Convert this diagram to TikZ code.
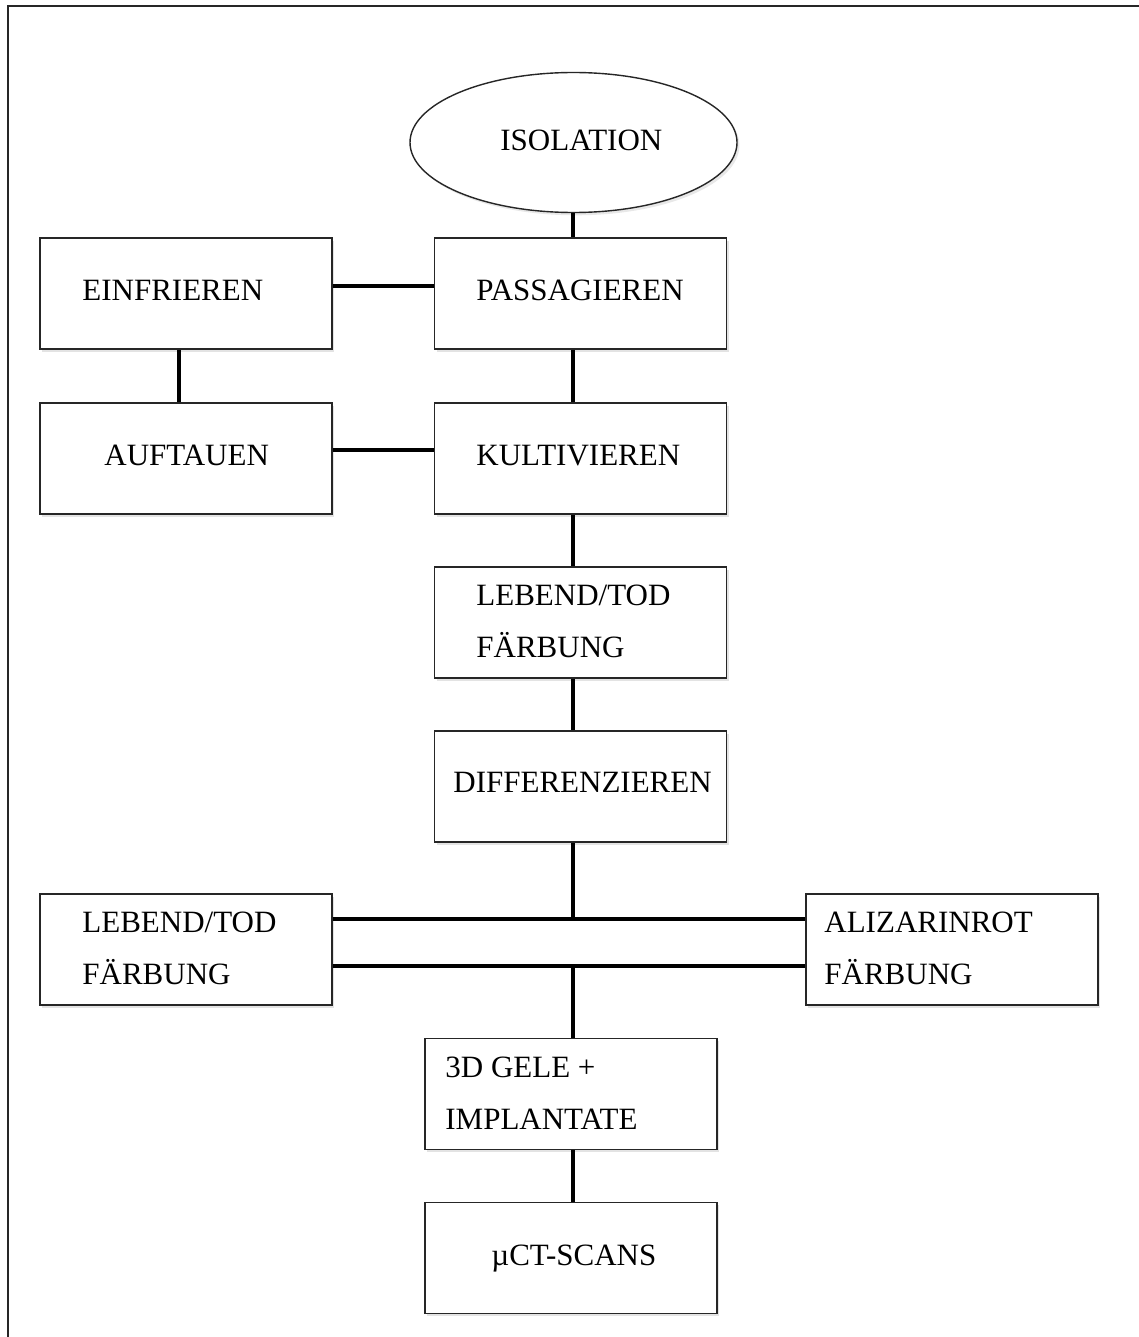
\documentclass[tikz,border=0pt]{standalone}
\usepackage{fontspec}
\setmainfont{Liberation Serif}
\usetikzlibrary{shapes.geometric,shadows}
\begin{document}
\begin{tikzpicture}[x=0.5pt,y=-0.5pt,
  box/.style={draw=black!85,line width=0.8pt,fill=white,rectangle,
    minimum width=146pt,minimum height=55.5pt,inner sep=0pt,
    drop shadow={shadow xshift=1.2pt,shadow yshift=-1.4pt,opacity=0.22}},
  oval/.style={draw=black!85,line width=0.7pt,fill=white,ellipse,
    minimum width=163.5pt,minimum height=70pt,inner sep=0pt,
    drop shadow={shadow xshift=1.2pt,shadow yshift=-1.4pt,opacity=0.18}},
  lbl/.style={anchor=base west,inner sep=0pt,font=\fontsize{15.5}{18}\selectfont},
  conn/.style={line width=2.1pt,black}]
\useasboundingbox (0,0) rectangle (1139,1337);
\fill[white] (0,0) rectangle (1139,1337);
\draw[line width=1pt,black!85] (8,1337) -- (8,6) -- (1139,6);

% connectors spine
\coordinate (spine) at (573,0);

% nodes
\node[oval] (iso) at (573.5,142.5) {};
\node[box] (pass) at (580.5,293.5) {};
\node[box] (einf) at (186,293.5) {};
\node[box] (auft) at (186,458.5) {};
\node[box] (kult) at (580.5,458.5) {};
\node[box] (leb1) at (580.5,622.5) {};
\node[box] (diff) at (580.5,786.5) {};
\node[box] (leb2) at (186,949.5) {};
\node[box] (aliz) at (952,949.5) {};
\node[box] (gele) at (571,1094) {};
\node[box] (muct) at (571,1258) {};

% connector helper coordinates
\coordinate (h1a) at ([yshift=15.25pt]leb2.east);
\coordinate (h1b) at ([yshift=15.25pt]aliz.west);
\coordinate (h2a) at ([yshift=-8.25pt]leb2.east);
\coordinate (h2b) at ([yshift=-8.25pt]aliz.west);

% connectors
\draw[conn] (iso.south -| spine) -- (pass.north -| spine);
\draw[conn] (pass.south -| spine) -- (kult.north -| spine);
\draw[conn] (kult.south -| spine) -- (leb1.north -| spine);
\draw[conn] (leb1.south -| spine) -- (diff.north -| spine);
\draw[conn] (diff.south -| spine) -- (h1a -| spine);
\draw[conn] (h2a -| spine) -- (gele.north -| spine);
\draw[conn] (gele.south -| spine) -- (muct.north -| spine);
\draw[conn] ([yshift=3.75pt]einf.east) -- ([yshift=3.75pt]pass.west);
\draw[conn] ([yshift=4.25pt]auft.east) -- ([yshift=4.25pt]kult.west);
\draw[conn] ([xshift=-3.5pt]einf.south) -- ([xshift=-3.5pt]auft.north);
\draw[conn] (h1a) -- (h1b);
\draw[conn] (h2a) -- (h2b);

% labels
\node[lbl] (tiso) at (500,151) {ISOLATION};
\node[lbl] (teinf) at (82,300) {EINFRIEREN};
\node[lbl] (tpass) at (476,300) {PASSAGIEREN};
\node[lbl] (tauft) at (104,465) {AUFTAUEN};
\node[lbl] (tkult) at (476,465) {KULTIVIEREN};
\node[lbl] (tleb1a) at (476,605) {LEBEND/TOD};
\node[lbl] (tleb1b) at (476,657) {FÄRBUNG};
\node[lbl] (tdiff) at (453,792) {DIFFERENZIEREN};
\node[lbl] (tleb2a) at (82,932) {LEBEND/TOD};
\node[lbl] (tleb2b) at (82,984) {FÄRBUNG};
\node[lbl] (tali a) at (824,932) {ALIZARINROT};
\node[lbl] (talib) at (824,984) {FÄRBUNG};
\node[lbl] (tgelea) at (445,1077) {3D GELE +};
\node[lbl] (tgeleb) at (445,1129) {IMPLANTATE};
\node[lbl] (tmuct) at (491,1265) {µCT-SCANS};
\end{tikzpicture}
\end{document}
